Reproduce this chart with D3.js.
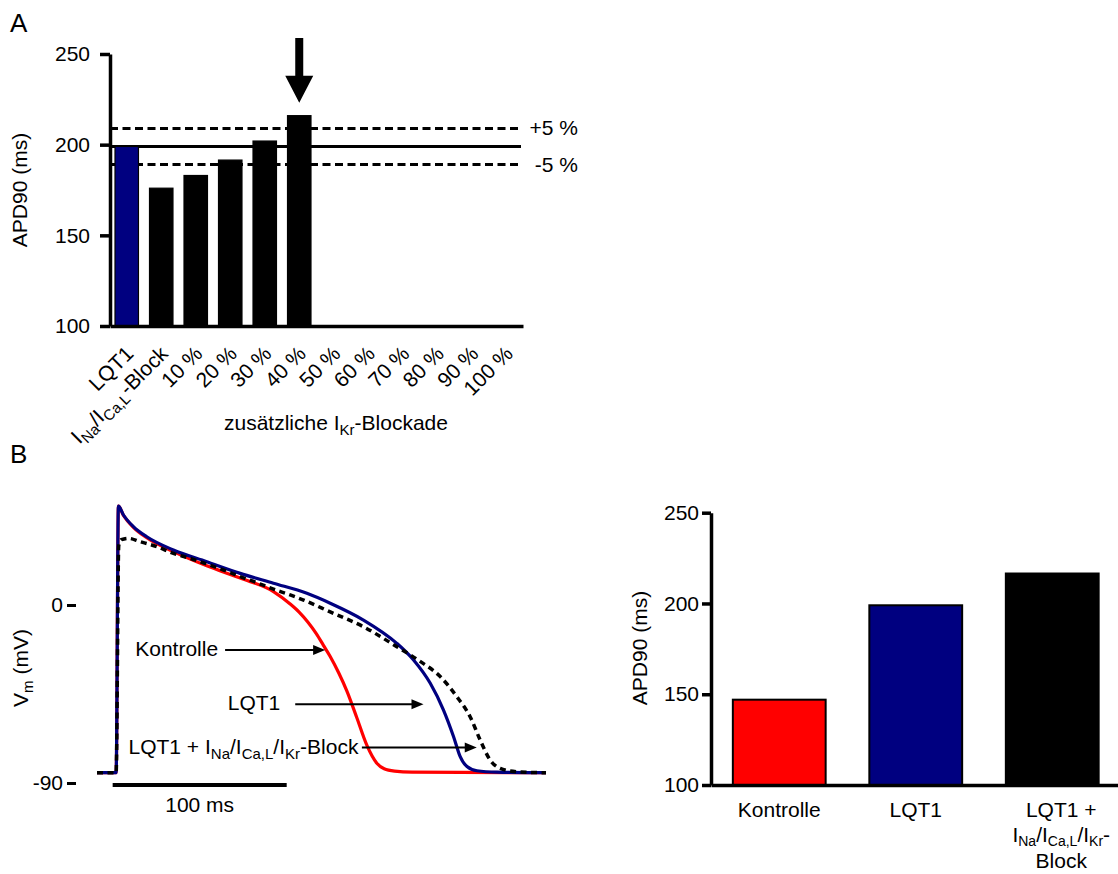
<!DOCTYPE html>
<html>
<head>
<meta charset="utf-8">
<script src="https://cdn.jsdelivr.net/npm/d3@7"></script>
<style>
  html, body { margin: 0; padding: 0; background: #fff; }
  svg { display: block; font-family: "Liberation Sans", Arial, Helvetica, sans-serif; }
</style>
</head>
<body>
<svg id="fig" width="1118" height="874"></svg>
<script>
// ---------- Panel A: APD90 under LQT1 with graded additional IKr block ----------
const catsA = ["LQT1", "I_{Na}/I_{Ca,L}-Block", "10 %", "20 %", "30 %", "40 %",
               "50 %", "60 %", "70 %", "80 %", "90 %", "100 %"];
const apdA = [199, 176, 183, 191.5, 202, 216, null, null, null, null, null, null];
const ticksA = [100, 150, 200, 250];
const bandLabels = ["+5 %", "-5 %"];
const bandFactors = [1.05, 0.95];
const markedCat = "40 %";

// ---------- Panel B left: simulated action potentials [t (ms), Vm (mV)] ----------
const traceKontrolle = [[-11, -84.8], [0, -84.8], [1.3, 50], [4.2, 45.3], [9.9, 39.3], [17.6, 34],
  [32.9, 27.0], [52.1, 19.8], [71.3, 13.6], [90.4, 6.8], [100, 0.5], [105, -3.5], [110, -8.5],
  [115, -14.5], [119.2, -20.5], [123, -26], [128, -34.5], [132.6, -43.5], [138.3, -57], [144.1, -71],
  [149.8, -80], [154, -82.8], [160, -84], [170, -84.5], [247, -84.8]];
const traceLQT1 = [[-11, -84.8], [0, -84.8], [1.3, 50], [4.2, 45.5], [9.9, 39.6], [17.6, 34.5],
  [32.9, 27.8], [52.1, 21.9], [71.3, 16.0], [90.4, 11.0], [109.6, 5.9], [123, 0.9], [142.1, -7.6],
  [161.3, -19.4], [170.9, -27.8], [180.5, -39.6], [188.1, -53.1], [193.9, -66.6], [197.7, -76.7],
  [201.6, -81.7], [207.3, -83.8], [218.8, -84.5], [247, -84.8]];
const traceLQT1Block = [[-11, -84.8], [0, -84.8], [1.5, 30], [3, 33], [7.1, 33.7], [13.8, 32],
  [23.4, 29.5], [32.9, 26.1], [42.5, 23.6], [52.1, 20.7], [61.7, 17.7], [71.3, 14.3], [80.8, 11.3],
  [90.4, 8.0], [100, 5.1], [107.7, 2.5], [123, -3.5], [142.1, -11], [161.3, -21.1], [174.7, -28.5],
  [186.2, -36.2], [195.8, -46.4], [203.4, -56.5], [209.2, -68.3], [214.9, -78.4], [220.7, -82.6],
  [230.3, -84.3], [247, -84.8]];
const ticksVm = [0, -90];
const scaleBarMs = [-2, 98];
const traceNotes = [
  { label: "Kontrolle", textEnd: 58.6, from: 62.6, to: 120.1, vm: -22.8 },
  { label: "LQT1", textEnd: 94.3, from: 102.9, to: 176.6, vm: -50.2 },
  { label: "LQT1 + I_{Na}/I_{Ca,L}/I_{Kr}-Block", textEnd: 139.2, from: 141.2, to: 207.2, vm: -72.1 }
];

// ---------- Panel B right: APD90 summary ----------
const catsB = ["Kontrolle", "LQT1", "LQT1 + I_{Na}/I_{Ca,L}/I_{Kr}-Block"];
const tickLinesB = [["Kontrolle"], ["LQT1"], ["LQT1 +", "I_{Na}/I_{Ca,L}/I_{Kr}-", "Block"]];
const apdB = [147, 199, 216.5];
const colorsB = ["#ff0000", "#000080", "#000000"];
const ticksB = [100, 150, 200, 250];

// ---------- helpers ----------
const svg = d3.select("#fig");
const FS = 21;

// writes "I_{Na}" style markup as tspans with lowered subscripts
function rich(textSel, str, subSize, shift) {
  const pieces = str.split(/_\{([^}]*)\}/);
  let down = false;
  pieces.forEach((s, i) => {
    if (s === "") return;
    const sub = i % 2 === 1;
    const ts = textSel.append("tspan").text(s);
    if (sub) {
      ts.attr("font-size", subSize);
      if (!down) { ts.attr("dy", shift); down = true; }
    } else if (down) {
      ts.attr("dy", -shift); down = false;
    }
  });
  return textSel;
}

function styleAxis(g, w) {
  g.select(".domain").attr("stroke", "#000").attr("stroke-width", w);
  g.selectAll(".tick line").attr("stroke", "#000").attr("stroke-width", w);
  g.selectAll(".tick text").attr("font-size", FS).attr("fill", "#000")
    .attr("font-family", "Liberation Sans, Arial, sans-serif");
}

// ================= Panel A =================
svg.append("text").attr("x", 10).attr("y", 32).attr("font-size", 26).text("A");

const yA = d3.scaleLinear().domain([100, 250]).range([326, 54]);
const xA = d3.scaleBand().domain(catsA).range([110, 523]).paddingInner(0.32).paddingOuter(0.145);
const gA = svg.append("g");

// reference lines: LQT1 level and +/-5 % band
const baseA = apdA[0];
const xA0 = xA.range()[0], xA1 = xA.range()[1] - 2;
gA.append("line").attr("x1", xA0).attr("x2", xA1)
  .attr("y1", yA(baseA)).attr("y2", yA(baseA))
  .attr("stroke", "#000").attr("stroke-width", 3);
bandFactors.forEach((f, i) => {
  const yy = yA(baseA * f);
  gA.append("line").attr("x1", xA0).attr("x2", xA1).attr("y1", yy).attr("y2", yy)
    .attr("stroke", "#000").attr("stroke-width", 3).attr("stroke-dasharray", "8 4.5");
  gA.append("text").attr("x", 578).attr("y", yy + 7).attr("text-anchor", "end")
    .attr("font-size", FS).text(bandLabels[i]);
});

// bars
gA.selectAll("rect.bar").data(catsA.map((c, i) => ({ c, v: apdA[i], i })).filter(d => d.v != null))
  .join("rect").attr("class", "bar")
  .attr("x", d => xA(d.c)).attr("width", xA.bandwidth())
  .attr("y", d => yA(d.v)).attr("height", d => yA(100) - yA(d.v))
  .attr("fill", d => d.i === 0 ? "#000080" : "#000")
  .attr("stroke", "#000").attr("stroke-width", 1.2);

// axes
const axA = gA.append("g").attr("transform", `translate(${xA0},0)`)
  .call(d3.axisLeft(yA).tickValues(ticksA).tickSize(10).tickPadding(10).tickSizeOuter(0));
styleAxis(axA, 3.5);
const axAb = gA.append("g").attr("transform", `translate(0,${yA(100)})`)
  .call(d3.axisBottom(xA).tickSize(0).tickSizeOuter(0).tickFormat(""));
styleAxis(axAb, 3.5);

// rotated category labels
catsA.forEach(c => {
  const cx = xA(c) + xA.bandwidth() / 2 + 8;
  const t = gA.append("text").attr("text-anchor", "end").attr("font-size", FS)
    .attr("transform", `translate(${cx},355) rotate(-45)`);
  rich(t, c, 15, 5);
});

// arrow marking the block level that exceeds +5 %
{
  const cx = xA(markedCat) + xA.bandwidth() / 2;
  const v = apdA[catsA.indexOf(markedCat)];
  const tip = yA(v) - 13, headH = 27, headW = 28, shaftW = 8, top = 38;
  const p = [[cx - shaftW / 2, top], [cx + shaftW / 2, top], [cx + shaftW / 2, tip - headH],
    [cx + headW / 2, tip - headH], [cx, tip], [cx - headW / 2, tip - headH], [cx - shaftW / 2, tip - headH]];
  gA.append("path").attr("d", d3.line()(p) + "Z").attr("fill", "#000");
}

gA.append("text").attr("text-anchor", "middle").attr("font-size", FS)
  .attr("transform", "translate(27,190) rotate(-90)").text("APD90 (ms)");
rich(gA.append("text").attr("x", 336).attr("y", 430).attr("text-anchor", "middle").attr("font-size", FS),
  "zusätzliche I_{Kr}-Blockade", 15, 5);

// ================= Panel B (left): action potentials =================
svg.append("text").attr("x", 10).attr("y", 463).attr("font-size", 26).text("B");

const xT = d3.scaleLinear().domain([-11, 247]).range([97, 546]);
const yT = d3.scaleLinear().domain([-90, 0]).range([783, 605]);
const gT = svg.append("g");
const lineT = d3.line().x(d => xT(d[0])).y(d => yT(d[1])).curve(d3.curveMonotoneX);

gT.append("path").datum(traceKontrolle).attr("d", lineT)
  .attr("fill", "none").attr("stroke", "#ff0000").attr("stroke-width", 3.2);
gT.append("path").datum(traceLQT1).attr("d", lineT)
  .attr("fill", "none").attr("stroke", "#000080").attr("stroke-width", 3.2);
gT.append("path").datum(traceLQT1Block).attr("d", lineT)
  .attr("fill", "none").attr("stroke", "#000").attr("stroke-width", 3.5)
  .attr("stroke-dasharray", "6 4.5");

const axT = gT.append("g").attr("transform", "translate(76,0)")
  .call(d3.axisLeft(yT).tickValues(ticksVm).tickSize(9).tickPadding(4).tickFormat(d => String(d)));
axT.select(".domain").remove();
styleAxis(axT, 3);

// time scale bar
gT.append("line").attr("x1", xT(scaleBarMs[0])).attr("x2", xT(scaleBarMs[1]))
  .attr("y1", 785).attr("y2", 785).attr("stroke", "#000").attr("stroke-width", 4);
gT.append("text").attr("x", (xT(scaleBarMs[0]) + xT(scaleBarMs[1])) / 2).attr("y", 812)
  .attr("text-anchor", "middle").attr("font-size", FS)
  .text(`${scaleBarMs[1] - scaleBarMs[0]} ms`);

rich(gT.append("text").attr("text-anchor", "middle").attr("font-size", FS)
  .attr("transform", "translate(28,668) rotate(-90)"), "V_{m} (mV)", 15, 5);

// trace annotations with arrows
traceNotes.forEach(n => {
  const yy = yT(n.vm);
  rich(gT.append("text").attr("x", xT(n.textEnd)).attr("y", yy + 6)
    .attr("text-anchor", "end").attr("font-size", FS), n.label, 15, 5);
  const xt = xT(n.to);
  gT.append("line").attr("x1", xT(n.from)).attr("x2", xt - 10).attr("y1", yy).attr("y2", yy)
    .attr("stroke", "#000").attr("stroke-width", 2);
  gT.append("path").attr("d", d3.line()([[xt, yy], [xt - 12, yy - 5], [xt - 12, yy + 5]]) + "Z")
    .attr("fill", "#000");
});

// ================= Panel B (right): APD90 summary =================
const yR = d3.scaleLinear().domain([100, 250]).range([785, 512.7]);
const xR = d3.scaleBand().domain(catsB).range([711, 1120.5]).paddingInner(0.32).paddingOuter(0.16);
const gR = svg.append("g");

gR.selectAll("rect").data(catsB.map((c, i) => ({ c, v: apdB[i], col: colorsB[i] })))
  .join("rect")
  .attr("x", d => xR(d.c)).attr("width", xR.bandwidth())
  .attr("y", d => yR(d.v)).attr("height", d => yR(100) - yR(d.v))
  .attr("fill", d => d.col).attr("stroke", "#000").attr("stroke-width", 2);

const axR = gR.append("g").attr("transform", "translate(711,0)")
  .call(d3.axisLeft(yR).tickValues(ticksB).tickSize(9).tickPadding(3).tickSizeOuter(0));
styleAxis(axR, 3.5);
const axRb = gR.append("g").attr("transform", `translate(0,${yR(100)})`)
  .call(d3.axisBottom(xR).tickSize(0).tickSizeOuter(0).tickFormat(""));
styleAxis(axRb, 3.5);

catsB.forEach((c, i) => {
  const lines = tickLinesB[i];
  const cx = xR(c) + xR.bandwidth() / 2 + (lines.length > 1 ? 9 : 0);
  const baseY = [817, 842, 868];
  lines.forEach((ln, j) => {
    rich(gR.append("text").attr("x", cx).attr("y", baseY[j]).attr("text-anchor", "middle")
      .attr("font-size", FS), ln, 14, 4);
  });
});

gR.append("text").attr("text-anchor", "middle").attr("font-size", FS)
  .attr("transform", "translate(647,648) rotate(-90)").text("APD90 (ms)");
</script>
</body>
</html>
